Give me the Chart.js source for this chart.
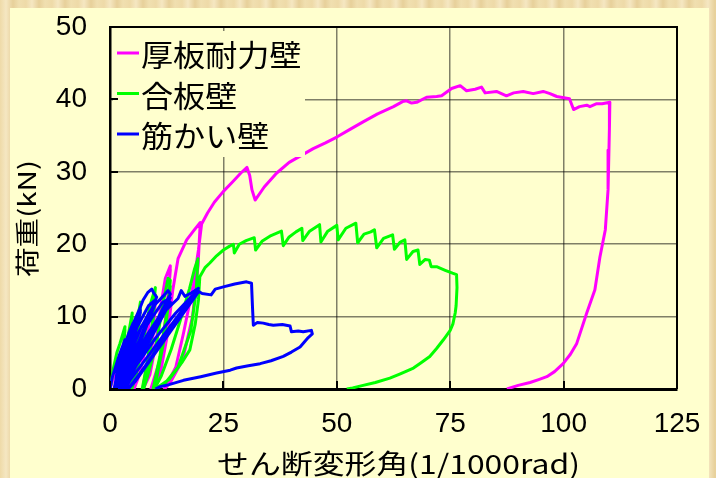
<!DOCTYPE html>
<html>
<head>
<meta charset="utf-8">
<script src="https://cdn.jsdelivr.net/npm/chart.js@4.4.0/dist/chart.umd.min.js"></script>
<style>
  html, body { margin: 0; padding: 0; }
  body {
    width: 716px; height: 478px; overflow: hidden; position: relative;
    background: repeating-linear-gradient(90deg, #eedaa8 0px, #f5e7c2 6px, #e7d09a 13px, #f0dfb0 19px, #eedaa8 26px);
  }
  #panel { position: absolute; left: 10px; top: 8px; width: 699px; height: 470px; background: #ffffce; }
  #wrap { position: absolute; left: 0; top: 0; width: 716px; height: 478px; }
</style>
</head>
<body>
<div id="panel"></div>
<div id="wrap"><canvas id="c" width="716" height="478"></canvas></div>
<script>
// Axis ticks and labels
const xTickValues = [0, 25, 50, 75, 100, 125];
const yTickValues = [0, 10, 20, 30, 40, 50];
const xAxisTitle = 'せん断変形角(1/1000rad)';
const yAxisTitle = '荷重(kN)';
const seriesNames = ['厚板耐力壁', '合板壁', '筋かい壁'];
const seriesColors = ['#ff00ff', '#00ff00', '#0000ff'];

// 厚板耐力壁: cyclic loops, then the final monotonic push and unloading [angle, load]
const thickWallCurve = [
  [0,0],[1.2,2.4],[2.3,4.0],[3.3,5.2],[2.9,2.5],[2.4,0.6],[2.2,0],[2.8,1.8],[3.3,5.0],[2.7,1.5],[2.3,0],
  [3.3,1.5],[4.2,4.3],[5.0,7.0],[4.5,3.5],[3.9,0.8],[3.7,0],[4.4,2.5],[5.0,6.8],[4.3,2.2],[3.8,0],
  [4.9,1.5],[5.9,4.5],[6.7,8.6],[6.1,4.5],[5.4,1.0],[5.2,0],[6.0,3.0],[6.7,8.3],[5.9,3.0],[5.3,0],
  [6.5,2.0],[7.8,5.5],[8.8,10.0],[10.0,12.5],[9.4,7.0],[8.0,1.5],[7.2,0],[8.5,4.5],[9.6,10.0],[10.0,12.0],[9.2,5.0],[7.3,0],
  [8.8,2.0],[10.2,6.5],[11.2,11.5],[12.2,15.3],[13.3,17.0],[12.8,12.0],[11.5,5.0],[9.6,0.8],[9.0,0],
  [11.0,4.0],[12.4,10.5],[13.3,16.5],[12.5,10.0],[10.8,3.0],[9.4,0],
  [11.2,2.5],[12.8,8.0],[13.8,13.5],[15.0,18.0],[16.9,20.6],[18.5,21.9],[19.9,23.0],
  [19.4,17.0],[18.2,10.0],[16.0,4.0],[13.2,0.8],[12.0,0],
  [14.5,3.0],[16.2,7.7],[17.6,12.0],[18.4,14.6],[19.5,19.2],[20.2,22.8],[21.5,24.3],[23.0,25.8],[25.0,27.3],[27.0,28.6],
  [28.8,29.8],[30.2,30.6],[30.8,29.5],[31.3,27.5],[32.0,26.1],[34.0,27.9],[36.7,29.8],[39.5,31.3],[42.3,32.3],
  [44.8,33.2],[47.5,34.0],[50.0,34.8],[53.0,35.9],[55.8,36.9],[59.0,38.0],[62.5,39.0],[64.5,39.7],[65.4,39.8],
  [66.5,39.5],[67.6,39.6],[69.8,40.3],[72.0,40.4],[73.1,40.5],[75.3,41.5],[77.2,41.9],[78.6,41.2],[80.5,41.4],
  [81.9,41.7],[82.7,40.9],[85.2,41.1],[87.4,40.5],[89.0,40.9],[91.1,41.1],[93.3,40.8],[95.5,41.1],[97.0,40.8],
  [98.5,40.4],[101.3,40.1],[102.2,38.6],[103.5,39.0],[105.1,39.2],[105.8,39.0],[107.3,39.4],[108.5,39.4],[110.2,39.6],
  [110.1,36.0],[110.0,33.0],[109.8,27.5],[109.2,22.0],[108.0,18.2],[106.9,13.7],[105.1,10.5],[102.9,6.3],[101.5,4.8],[99.9,3.5],
  [98.0,2.4],[96.3,1.7],[94.5,1.3],[92.6,0.9],[90.0,0.5],[87.5,0]
];

// 合板壁
const plywoodCurve = [
  [0,0],[0.8,3.0],[1.5,5.0],[2.2,6.3],[3.3,8.6],[2.9,5.0],[2.4,1.5],[2.1,0],[2.7,3.5],[3.3,8.2],[2.8,4.0],[2.2,0],
  [3.1,3.0],[3.9,7.0],[4.9,10.5],[4.3,6.0],[3.6,1.5],[3.3,0],[4.1,4.0],[4.9,10.0],[4.2,4.5],[3.5,0],
  [4.4,3.0],[5.6,7.8],[6.7,12.0],[6.0,7.0],[5.0,1.5],[4.6,0],[5.6,4.5],[6.7,11.3],[5.8,5.0],[4.8,0],
  [6.0,2.5],[7.6,7.5],[8.8,11.5],[10.0,14.0],[9.2,8.0],[7.8,2.0],[7.1,0],[8.6,5.0],[10.0,13.0],[9.0,6.0],[7.4,0],
  [8.3,1.8],[10.3,6.5],[11.6,11.5],[12.8,15.3],[13.3,15.0],[12.3,9.0],[10.5,2.5],[9.5,0],[11.0,4.5],[12.4,10.0],[13.3,14.2],[12.0,7.0],[9.8,0],
  [11.3,1.8],[13.5,5.5],[15.5,9.5],[17.5,13.8],[18.6,16.5],[19.4,18.0],[19.0,13.5],[17.8,8.0],[15.0,3.0],[12.0,0.7],[10.0,0],
  [13.0,1.3],[16.0,3.8],[17.6,5.4],[18.8,9.0],[19.5,12.3],[19.8,15.5],[21.0,16.8],[22.0,17.4],[23.5,18.4],[25.0,19.2],
  [26.3,19.7],[27.2,20.0],[27.4,18.8],[28.5,20.0],[30.0,20.5],[31.8,20.9],[32.1,19.2],[33.5,20.4],[35.5,21.2],
  [37.8,21.8],[38.2,19.8],[39.5,21.0],[41.0,21.7],[42.3,22.2],[42.5,20.5],[44.0,21.8],[46.2,22.7],[46.5,20.3],
  [48.0,21.8],[50.0,22.6],[50.3,20.6],[52.0,22.2],[54.2,22.9],[54.6,20.2],[56.0,21.4],[57.5,21.7],[58.3,22.0],
  [58.8,19.5],[60.3,20.8],[62.3,21.3],[62.7,19.3],[64.0,20.3],[65.0,20.6],[65.4,17.9],[66.8,19.0],[67.9,19.2],
  [68.3,17.2],[69.5,17.9],[70.4,17.8],[70.8,16.9],[72.0,16.9],[73.9,16.4],[75.5,16.0],[76.4,15.8],[76.5,14.0],
  [76.3,11.5],[76.1,10.5],[75.6,9.0],[75.0,8.1],[73.5,6.8],[72.0,5.6],[70.5,4.5],[68.5,3.6],[66.9,2.9],[64.0,2.1],
  [61.7,1.5],[58.5,0.9],[55.8,0.5],[53.5,0.15],[52.2,0]
];

// 筋かい壁
const bracedCurve = [
  [0,0],[0.5,1.6],[1.0,2.6],[2.0,4.6],[3.3,6.8],[2.2,3.0],[1.2,0.5],[0.9,0],[1.8,2.8],[2.7,5.0],[3.3,6.5],[1.3,0.7],[1.0,0],
  [1.6,2.6],[2.6,5.2],[3.3,6.4],[1.2,0.5],[1.0,0],
  [2.0,3.2],[3.4,6.4],[4.2,7.8],[5.1,9.1],[2.0,2.0],[1.3,0],[2.2,3.4],[3.6,6.6],[5.0,8.7],[1.6,0.8],[1.4,0],
  [2.0,3.0],[3.5,6.2],[5.0,8.4],[1.7,0.6],[1.5,0],
  [2.5,3.8],[4.0,7.3],[5.5,9.6],[6.7,11.3],[2.5,2.0],[1.6,0],[2.8,4.0],[4.8,8.2],[6.7,10.9],[2.2,0.9],[1.8,0],
  [2.6,3.3],[4.5,7.3],[6.7,10.6],[2.0,0.5],[1.8,0],
  [3.0,4.2],[5.0,8.6],[7.3,12.3],[8.3,13.3],[9.2,13.8],[9.7,13.2],[10.3,12.7],[3.3,1.8],[2.2,0],
  [3.5,4.2],[6.0,8.6],[8.5,11.5],[10.0,12.3],[2.8,1.0],[2.4,0],
  [3.4,3.0],[6.0,7.5],[8.6,10.5],[10.0,11.8],[3.0,0.6],[2.6,0],
  [4.0,4.2],[7.0,8.7],[10.0,11.7],[12.0,13.0],[12.8,13.6],[13.3,13.1],[4.0,1.8],[2.8,0],
  [4.5,4.2],[8.0,8.7],[11.5,11.9],[13.3,12.6],[3.5,1.0],[3.0,0],
  [4.2,2.8],[8.0,7.3],[11.5,10.6],[13.3,12.0],[3.7,0.8],[3.2,0],
  [5.0,3.8],[9.0,8.0],[12.5,11.0],[15.0,12.5],[15.7,13.6],[16.5,12.8],[18.0,13.3],[19.5,13.9],[4.4,1.2],[3.4,0],
  [5.5,3.0],[10.0,7.0],[14.5,10.5],[18.0,12.8],[19.5,13.4],[5.5,1.0],[4.0,0],
  [7.0,2.5],[11.5,6.5],[15.5,10.0],[18.3,12.3],[19.5,13.5],[20.3,13.2],[22.3,13.0],[23.2,13.8],[25.0,14.1],
  [27.5,14.5],[30.1,14.8],[31.2,14.6],[31.4,11.5],[31.6,8.8],[32.5,9.2],[33.8,9.1],[35.0,8.9],[36.0,8.8],
  [38.0,8.9],[39.7,8.7],[40.0,7.9],[41.5,8.0],[42.6,7.9],[44.4,8.1],[44.6,7.6],[43.7,7.1],[41.9,5.8],[40.0,5.1],
  [38.2,4.5],[35.5,3.9],[33.1,3.5],[30.5,3.2],[27.9,2.9],[26.5,2.6],[23.5,2.2],[20.0,1.7],[16.2,1.2],[13.0,0.6],
  [11.0,0.3],[10.0,0]
];

const curves = [thickWallCurve, plywoodCurve, bracedCurve];
const PANEL = '#ffffce';
const CJK = '"Noto Sans CJK JP", "Noto Sans", sans-serif';

// Draw text stretched horizontally to a given width
function fitText(ctx, text, x, y, width, font) {
  ctx.save();
  ctx.font = font;
  const w = ctx.measureText(text).width;
  ctx.translate(x, y);
  ctx.scale(width / w, 1);
  ctx.textAlign = 'left';
  ctx.textBaseline = 'middle';
  ctx.fillStyle = '#000';
  ctx.fillText(text, 0, 0);
  ctx.restore();
}

const framePlugin = {
  id: 'frame',
  afterDatasetsDraw(chart) {
    const { ctx, chartArea: a, scales } = chart;
    // legend box sits over the grid in the upper-left corner
    ctx.save();
    ctx.fillStyle = PANEL;
    ctx.fillRect(113, 31, 192, 126);
    const rows = [55, 95.5, 136];
    seriesNames.forEach((name, i) => {
      ctx.strokeStyle = seriesColors[i];
      ctx.lineWidth = 3;
      ctx.beginPath();
      ctx.moveTo(117, rows[i] - 2);
      ctx.lineTo(139, rows[i] - 2);
      ctx.stroke();
      ctx.font = '30px ' + CJK;
      const w = ctx.measureText(name).width;
      fitText(ctx, name, 141, rows[i], w * 1.07, '30px ' + CJK);
    });
    // outer frame
    ctx.strokeStyle = '#000';
    ctx.lineWidth = 2;
    ctx.beginPath();
    ctx.moveTo(a.left, a.top);
    ctx.lineTo(a.right, a.top);
    ctx.lineTo(a.right, a.bottom);
    ctx.stroke();
    // inward tick marks
    ctx.beginPath();
    xTickValues.forEach(v => {
      const px = Math.round(scales.x.getPixelForValue(v));
      ctx.moveTo(px, a.bottom);
      ctx.lineTo(px, a.bottom - 8);
    });
    yTickValues.forEach(v => {
      const py = Math.round(scales.y.getPixelForValue(v));
      ctx.moveTo(a.left, py);
      ctx.lineTo(a.left + 8, py);
    });
    ctx.stroke();
    ctx.restore();
  },
  afterDraw(chart) {
    const { ctx } = chart;
    fitText(ctx, xAxisTitle, 217, 464, 363, '27px ' + CJK);
    ctx.save();
    ctx.setTransform(0, -1, 1, 0, 27, 277);
    fitText(ctx, yAxisTitle, 0, 0, 117, '24px ' + CJK);
    ctx.restore();
  }
};

new Chart(document.getElementById('c'), {
  type: 'scatter',
  data: {
    datasets: curves.map((pts, i) => ({
      label: seriesNames[i],
      data: pts.map(([x, y]) => ({ x, y })),
      showLine: true,
      borderColor: seriesColors[i],
      backgroundColor: seriesColors[i],
      borderWidth: 3,
      pointRadius: 0,
      tension: 0,
      borderJoinStyle: 'round',
      order: 3 - i
    }))
  },
  options: {
    responsive: false,
    animation: false,
    devicePixelRatio: 1,
    layout: { padding: { top: 27, right: 39, left: 0, bottom: 0 } },
    plugins: { legend: { display: false }, tooltip: { enabled: false } },
    scales: {
      x: {
        type: 'linear', min: 0, max: 125,
        afterBuildTicks: s => { s.ticks = xTickValues.map(v => ({ value: v })); },
        afterFit: s => { s.height = 89; s.paddingLeft = 0; s.paddingRight = 0; },
        ticks: { padding: 18, color: '#000', font: { family: '"Liberation Sans", Arial, sans-serif', size: 28 } },
        grid: { color: 'rgba(0,0,0,0.5)', lineWidth: 1.5, drawTicks: false },
        border: { display: true, color: '#000', width: 3 }
      },
      y: {
        type: 'linear', min: 0, max: 50,
        afterBuildTicks: s => { s.ticks = yTickValues.map(v => ({ value: v })); },
        afterFit: s => { s.width = 110; s.paddingTop = 0; s.paddingBottom = 0; },
        ticks: { padding: 23, color: '#000', font: { family: '"Liberation Sans", Arial, sans-serif', size: 28 } },
        grid: { color: 'rgba(0,0,0,0.5)', lineWidth: 1.5, drawTicks: false },
        border: { display: true, color: '#000', width: 2.5 }
      }
    }
  },
  plugins: [framePlugin]
});
</script>
</body>
</html>
